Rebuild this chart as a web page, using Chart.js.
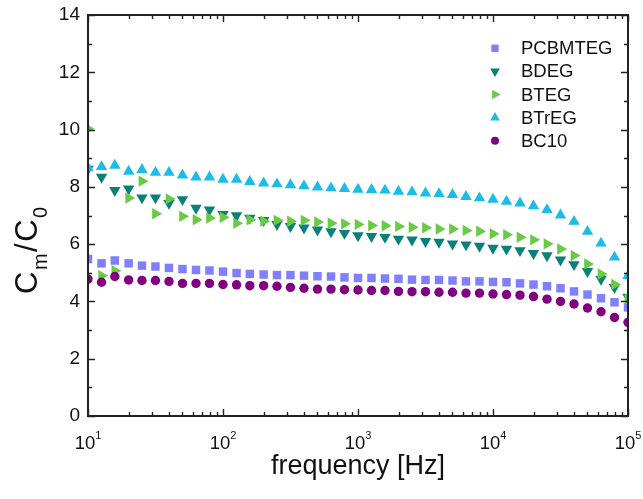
<!DOCTYPE html>
<html lang="en">
<head>
<meta charset="UTF-8">
<title>Cm/C0 vs frequency</title>
<script src="https://cdn.jsdelivr.net/npm/chart.js@4.4.1/dist/chart.umd.min.js"></script>
<style>
  html, body { margin: 0; padding: 0; background: #fff; }
  #wrap { width: 643px; height: 499px; }
</style>
</head>
<body>
<div id="wrap"><canvas id="chart" width="643" height="499"></canvas></div>
<script>
// frequency points, 10 per decade
var frequency = [10, 12.6, 15.8, 20.0, 25.1, 31.6, 39.8, 50.1, 63.1, 79.4,
                 100, 126, 158, 200, 251, 316, 398, 501, 631, 794,
                 1000, 1259, 1585, 1995, 2512, 3162, 3981, 5012, 6310, 7943,
                 10000, 12589, 15849, 19953, 25119, 31623, 39811, 50119, 63096, 79433, 100000];

var pcbmteg = [5.48, 5.33, 5.43, 5.33, 5.25, 5.22, 5.17, 5.13, 5.10, 5.08,
               5.04, 4.99, 4.96, 4.94, 4.92, 4.92, 4.90, 4.88, 4.87, 4.84,
               4.82, 4.82, 4.80, 4.79, 4.76, 4.75, 4.75, 4.73, 4.70, 4.70,
               4.68, 4.67, 4.63, 4.59, 4.53, 4.46, 4.35, 4.24, 4.11, 3.97, 3.79];

var bdeg = [8.62, 8.34, 7.88, 7.93, 7.62, 7.62, 7.43, 7.56, 7.26, 7.20,
            7.04, 7.00, 6.91, 6.83, 6.69, 6.62, 6.57, 6.50, 6.44, 6.38,
            6.30, 6.27, 6.24, 6.18, 6.15, 6.10, 6.07, 6.01, 5.98, 5.93,
            5.86, 5.83, 5.78, 5.68, 5.60, 5.45, 5.29, 5.05, 4.78, 4.49, 4.15];

var bteg = [10.03, 4.90, 5.07, 7.61, 8.20, 7.06, 7.58, 6.97, 6.85, 6.91,
            6.94, 6.73, 6.85, 6.80, 6.83, 6.80, 6.83, 6.77, 6.73, 6.71,
            6.69, 6.65, 6.64, 6.62, 6.59, 6.57, 6.53, 6.53, 6.48, 6.45,
            6.36, 6.33, 6.24, 6.15, 6.01, 5.83, 5.60, 5.31, 4.96, 4.59, 4.08];

var btreg = [8.67, 8.70, 8.75, 8.54, 8.60, 8.50, 8.50, 8.41, 8.34, 8.34,
             8.26, 8.26, 8.18, 8.13, 8.10, 8.07, 8.03, 7.99, 7.96, 7.94,
             7.91, 7.90, 7.88, 7.84, 7.82, 7.78, 7.76, 7.73, 7.66, 7.61,
             7.56, 7.49, 7.43, 7.33, 7.20, 7.01, 6.79, 6.44, 6.03, 5.54, 4.90];

var bc10 = [4.78, 4.67, 4.87, 4.75, 4.73, 4.73, 4.70, 4.63, 4.63, 4.63,
            4.59, 4.58, 4.55, 4.55, 4.53, 4.49, 4.46, 4.43, 4.43, 4.41,
            4.40, 4.38, 4.38, 4.35, 4.34, 4.34, 4.32, 4.32, 4.29, 4.29,
            4.26, 4.24, 4.22, 4.17, 4.08, 4.00, 3.91, 3.77, 3.64, 3.44, 3.27];

var seriesNames = ['PCBMTEG', 'BDEG', 'BTEG', 'BTrEG', 'BC10'];
var yTicks = [0, 2, 4, 6, 8, 10, 12, 14];
var yMinorTicks = [1, 3, 5, 7, 9, 11, 13];
var xTicks = [10, 100, 1000, 10000, 100000];
var xTickExp = ['1', '2', '3', '4', '5'];

var FONT = "'Liberation Sans', Arial, sans-serif";

function points(ys) {
    return frequency.map(function (f, i) { return { x: f, y: ys[i] }; });
}

var styles = [
    { color: '#8080ff', pointStyle: 'rect', rotation: 0, radius: 6 },
    { color: '#0a8078', pointStyle: 'triangle', rotation: 180, radius: 6.6 },
    { color: '#6aca45', pointStyle: 'triangle', rotation: 90, radius: 6.6 },
    { color: '#1bbde8', pointStyle: 'triangle', rotation: 0, radius: 6.6 },
    { color: '#800080', pointStyle: 'circle', rotation: 0, radius: 4.7 }
];
var allSeries = [pcbmteg, bdeg, bteg, btreg, bc10];

var datasets = allSeries.map(function (ys, i) {
    var s = styles[i];
    return {
        label: seriesNames[i],
        data: points(ys),
        order: 5 - i,
        pointStyle: s.pointStyle,
        rotation: s.rotation,
        pointRadius: s.radius,
        pointHoverRadius: s.radius,
        pointBackgroundColor: s.color,
        pointBorderWidth: 0,
        showLine: false
    };
});

// frame, inward ticks, tick labels, axis titles and legend
var decorPlugin = {
    id: 'decor',
    afterDraw: function (chart) {
        var ctx = chart.ctx;
        var a = chart.chartArea;
        var xs = chart.scales.x, ys = chart.scales.y;
        ctx.save();
        ctx.strokeStyle = '#222';
        ctx.lineWidth = 2;
        ctx.strokeRect(a.left, a.top, a.right - a.left, a.bottom - a.top);

        ctx.lineWidth = 1.4;
        ctx.beginPath();
        // y ticks, left and right
        yTicks.forEach(function (v) {
            var p = Math.round(ys.getPixelForValue(v)) + 0.5;
            ctx.moveTo(a.left, p); ctx.lineTo(a.left + 7, p);
            ctx.moveTo(a.right, p); ctx.lineTo(a.right - 7, p);
        });
        yMinorTicks.forEach(function (v) {
            var p = Math.round(ys.getPixelForValue(v)) + 0.5;
            ctx.moveTo(a.left, p); ctx.lineTo(a.left + 4, p);
            ctx.moveTo(a.right, p); ctx.lineTo(a.right - 4, p);
        });
        // x ticks, bottom and top
        xTicks.forEach(function (dec, i) {
            var p = Math.round(xs.getPixelForValue(dec)) + 0.5;
            ctx.moveTo(p, a.bottom); ctx.lineTo(p, a.bottom - 7);
            ctx.moveTo(p, a.top); ctx.lineTo(p, a.top + 7);
            if (i < xTicks.length - 1) {
                for (var m = 2; m <= 9; m++) {
                    var q = Math.round(xs.getPixelForValue(dec * m)) + 0.5;
                    ctx.moveTo(q, a.bottom); ctx.lineTo(q, a.bottom - 4);
                    ctx.moveTo(q, a.top); ctx.lineTo(q, a.top + 4);
                }
            }
        });
        ctx.stroke();

        // y tick labels
        ctx.fillStyle = '#111';
        ctx.font = '19px ' + FONT;
        ctx.textAlign = 'right';
        ctx.textBaseline = 'middle';
        yTicks.forEach(function (v) {
            ctx.fillText(String(v), a.left - 8, ys.getPixelForValue(v));
        });

        // x tick labels 10^n
        ctx.textBaseline = 'alphabetic';
        ctx.textAlign = 'left';
        xTicks.forEach(function (dec, i) {
            var p = xs.getPixelForValue(dec);
            ctx.font = '18.5px ' + FONT;
            var w1 = ctx.measureText('10').width;
            ctx.font = '11px ' + FONT;
            var w2 = ctx.measureText(xTickExp[i]).width;
            var x0 = p - (w1 + w2) / 2;
            ctx.font = '18.5px ' + FONT;
            ctx.fillText('10', x0, 449);
            ctx.font = '11px ' + FONT;
            ctx.fillText(xTickExp[i], x0 + w1, 439);
        });

        // x title
        ctx.font = '27px ' + FONT;
        ctx.textAlign = 'center';
        ctx.fillText('frequency [Hz]', (a.left + a.right) / 2, 474);

        // y title C_m/C_0
        ctx.save();
        ctx.translate(37, 294);
        ctx.rotate(-Math.PI / 2);
        ctx.textAlign = 'left';
        var parts = [['C', 31, 0], ['m', 20, 10], ['/', 31, 0], ['C', 31, 0], ['0', 20, 10]];
        var cx = 0;
        parts.forEach(function (pt) {
            ctx.font = pt[1] + 'px ' + FONT;
            ctx.fillText(pt[0], cx, pt[2]);
            cx += ctx.measureText(pt[0]).width + 1.5;
        });
        ctx.restore();

        // legend
        var lx = 495, ly = 48.3, step = 23.1;
        seriesNames.forEach(function (name, i) {
            var s = styles[i];
            var y = ly + i * step;
            ctx.fillStyle = s.color;
            Chart.helpers.drawPoint(ctx, {
                pointStyle: s.pointStyle,
                rotation: s.rotation,
                radius: s.pointStyle === 'circle' ? 4 : (s.pointStyle === 'rect' ? 5.2 : 5.6),
                borderWidth: 0
            }, lx, y);
            ctx.fillStyle = '#111';
            ctx.font = '18.5px ' + FONT;
            ctx.textAlign = 'left';
            ctx.textBaseline = 'middle';
            ctx.fillText(name, 521, y + 1);
        });
        ctx.restore();
    }
};

new Chart(document.getElementById('chart'), {
    type: 'scatter',
    data: { datasets: datasets },
    options: {
        responsive: false,
        animation: false,
        layout: { padding: { left: 88, right: 15, top: 15, bottom: 83 } },
        plugins: {
            legend: { display: false },
            tooltip: { enabled: false }
        },
        scales: {
            x: { type: 'logarithmic', min: 10, max: 100000, display: false },
            y: { type: 'linear', min: 0, max: 14, display: false }
        }
    },
    plugins: [decorPlugin]
});
</script>
</body>
</html>
